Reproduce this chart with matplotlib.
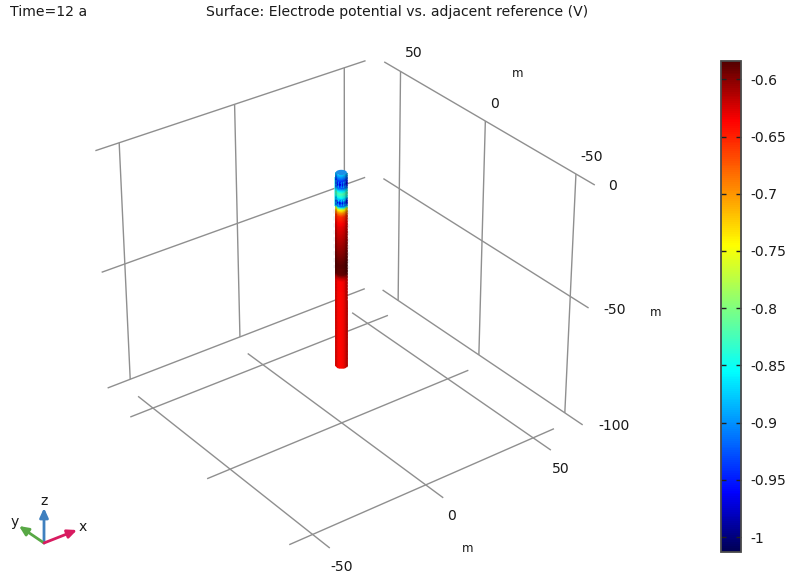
import numpy as np
import matplotlib
matplotlib.use("Agg")
import matplotlib.pyplot as plt
from matplotlib.colors import LinearSegmentedColormap, Normalize
from matplotlib.cm import ScalarMappable

# ---------------- Data ----------------

x_ticks = [-50, 0, 50]
y_ticks = [-50, 0, 50]
z_ticks = [0, -50, -100]
cbar_ticks = [-0.6, -0.65, -0.7, -0.75, -0.8, -0.85, -0.9, -0.95, -1]
cbar_labels = ["-0.6", "-0.65", "-0.7", "-0.75", "-0.8", "-0.85", "-0.9", "-0.95", "-1"]
pot_min = -1.013
pot_max = -0.584

# potential along the well
well_z = [0, -1.2, -4.2, -5.5, -7, -7.8, -9, -9.8, -11.4, -13, -14.2, -15.4, -17, -21.1,
          -27.3, -32, -37, -40.8, -42, -43.5, -48.6, -65, -80]
well_pot = [-0.87, -0.90, -0.975, -0.92, -0.85, -0.82, -0.84, -0.87, -0.975, -0.90,
            -0.75, -0.70, -0.655, -0.63, -0.612, -0.60, -0.586, -0.59, -0.615, -0.636,
            -0.638, -0.638, -0.638]
blue_bands = [-4.2, -11.4]

# ---------------- Camera and layout ----------------

# world (x, y, z) to picture pixels, calibrated on the grid crossings
P = np.array([
    [2.473920831573479, -1.4819537252434378, -0.17940167516220817, 341.3115204417766],
    [-0.7270374123779032, -0.977268614902206, -2.602210978090143, 172.46292169094906],
    [0.0005315139773485253, 0.000681714367884461, -0.0005147227174622983, 1.0],
])

WALL = 65
FLOOR = -105
REACH = 60
WELL_R = 1.95
GRID = "#8f8f8f"
TEXT = "#1a1a1a"
FS = 10.1


def project(x, y, z):
    x, y, z = np.broadcast_arrays(x, y, z)
    w = P[2, 0] * x + P[2, 1] * y + P[2, 2] * z + P[2, 3]
    u = (P[0, 0] * x + P[0, 1] * y + P[0, 2] * z + P[0, 3]) / w
    v = (P[1, 0] * x + P[1, 1] * y + P[1, 2] * z + P[1, 3]) / w
    return u, v


def grid_line(ax, start, end):
    u, v = project(*np.array([start, end], dtype=float).T)
    ax.plot(u, v, color=GRID, lw=1.0, solid_capstyle="butt", zorder=1)


cmap = LinearSegmentedColormap.from_list("rainbow_dark", [
    (0.0, (0.0, 0.0, 0.33)),
    (0.121, (0.0, 0.0, 1.0)),
    (0.368, (0.0, 1.0, 1.0)),
    (0.625, (1.0, 1.0, 0.0)),
    (0.879, (1.0, 0.0, 0.0)),
    (1.0, (0.33, 0.0, 0.0)),
])
norm = Normalize(pot_min, pot_max)

fig = plt.figure(figsize=(7.91, 5.79), dpi=100)
ax = fig.add_axes([0, 0, 1, 1])
ax.set_xlim(0, 791)
ax.set_ylim(579, 0)
ax.axis("off")

# ---------------- Grid ----------------

for x in x_ticks:
    grid_line(ax, (x, -REACH, FLOOR), (x, REACH, FLOOR))
    grid_line(ax, (x, WALL, 0), (x, WALL, -100))
for y in y_ticks:
    grid_line(ax, (-REACH, y, FLOOR), (REACH, y, FLOOR))
    grid_line(ax, (WALL, y, 0), (WALL, y, -100))
for z in z_ticks:
    grid_line(ax, (-REACH, WALL, z), (REACH, WALL, z))
    grid_line(ax, (WALL, -REACH, z), (WALL, REACH, z))

# ---------------- Well surface ----------------

# fine cells only so the surface shades smoothly between the read values
theta_edges = np.radians(np.linspace(135, 315, 25))
z_edges = np.linspace(0, -80, 321)
theta_mid = 0.5 * (theta_edges[:-1] + theta_edges[1:])
z_mid = 0.5 * (z_edges[:-1] + z_edges[1:])
pot_rows = np.interp(z_mid, well_z[::-1], well_pot[::-1])
pot = np.tile(pot_rows, (len(theta_mid), 1)).T
tt, zz = np.meshgrid(theta_mid, z_mid)
# lighter stripes on the two blue sections
for band in blue_bands:
    in_band = np.abs(zz - band) < 1.1
    pot += in_band * 0.055 * (np.arange(len(theta_mid)) % 4 < 2)
light = 0.68 + 0.32 * np.clip(np.cos(tt - np.radians(215)), 0, 1) ** 0.8
rgba = cmap(norm(pot))
rgba[..., :3] *= light[..., None]
te, ze = np.meshgrid(theta_edges, z_edges)
U, V = project(WELL_R * np.cos(te), WELL_R * np.sin(te), ze)
ax.pcolormesh(U, V, rgba, shading="flat", antialiased=True, edgecolors="face",
              linewidth=0.35, zorder=3)

# top cap
cap_t = np.radians(np.linspace(0, 360, 40))
cap_u, cap_v = project(WELL_R * np.cos(cap_t), WELL_R * np.sin(cap_t), 0)
ax.fill(cap_u, cap_v, color="#1a8fe8", lw=0, zorder=4)

# faint parts next to the well
sleeve_t = np.radians(np.linspace(165, 200, 4))
sz = np.array([-1.0, -12.0])
st, szz = np.meshgrid(sleeve_t, sz)
SU, SV = project(3.2 * np.cos(st), 3.2 * np.sin(st) - 0.6, szz)
ax.pcolormesh(SU, SV, np.full((1, 3, 4), 0.0) + np.array([0.3, 0.95, 0.95, 0.7]), zorder=2)
for side in [135, 315]:
    a = np.radians(side)
    gu, gv = project(2.6 * np.cos(a), 2.6 * np.sin(a), np.array([-15.0, -39.0]))
    ax.plot(gu, gv, color="#e2e4e8", lw=1.0, ls=(0, (3, 2)), alpha=0.6, zorder=2)

# ---------------- Axis labels ----------------

x_offset = {-50: (12, 19), 0: (8, 18), 50: (10, 19)}
for x in x_ticks:
    u, v = project(x, -REACH, FLOOR)
    ax.text(u + x_offset[x][0], v + x_offset[x][1], str(x), color=TEXT, fontsize=FS,
            ha="center", va="center")
y_offset = {-50: (16, -17), 0: (9, -17), 50: (13, -18)}
for y in y_ticks:
    u, v = project(WALL, y, 0)
    ax.text(u + y_offset[y][0], v + y_offset[y][1], str(y), color=TEXT, fontsize=FS,
            ha="center", va="center")
z_offset = {0: (18, 1), -50: (26, 2), -100: (31, 1)}
for z in z_ticks:
    u, v = project(WALL, -REACH, z)
    ax.text(u + z_offset[z][0], v + z_offset[z][1], str(z), color=TEXT, fontsize=FS,
            ha="center", va="center")

ax.text(518, 73.5, "m", color=TEXT, fontsize=FS - 1.5, ha="center", va="center")
ax.text(468, 548, "m", color=TEXT, fontsize=FS - 1.5, ha="center", va="center")
ax.text(656, 312, "m", color=TEXT, fontsize=FS - 1.5, ha="center", va="center")

ax.text(10, 12, "Time=12 a", color=TEXT, fontsize=FS, ha="left", va="center")
ax.text(397.5, 12, "Surface: Electrode potential vs. adjacent reference (V)", color=TEXT,
        fontsize=FS, ha="center", va="center")

# ---------------- Orientation triad ----------------

origin = (44, 543)
for tip, col, name, pos in [
    ((44, 508), "#3f80bf", "z", (44, 501)),
    ((19, 526), "#58a845", "y", (15, 522)),
    ((77, 530), "#d81b60", "x", (83, 527)),
]:
    ax.annotate("", xy=tip, xytext=origin,
                arrowprops=dict(arrowstyle="-|>,head_length=0.55,head_width=0.25", color=col,
                                lw=2.0, shrinkA=0, shrinkB=0))
    ax.text(pos[0], pos[1], name, color=TEXT, fontsize=FS, ha="center", va="center")

# ---------------- Colour bar ----------------

cax = fig.add_axes([721 / 791, (579 - 552) / 579, 20 / 791, 491 / 579])
cbar = fig.colorbar(ScalarMappable(norm=norm, cmap=cmap), cax=cax, ticks=cbar_ticks)
cbar.set_ticklabels(cbar_labels)
cbar.outline.set_edgecolor("#4a4a4a")
cbar.outline.set_linewidth(1.3)
cax.tick_params(axis="y", direction="in", left=True, right=True, length=3.5, width=1.0,
                color="#222222", labelsize=FS, labelcolor=TEXT, pad=6.5)

fig.savefig("out.png", dpi=100)
